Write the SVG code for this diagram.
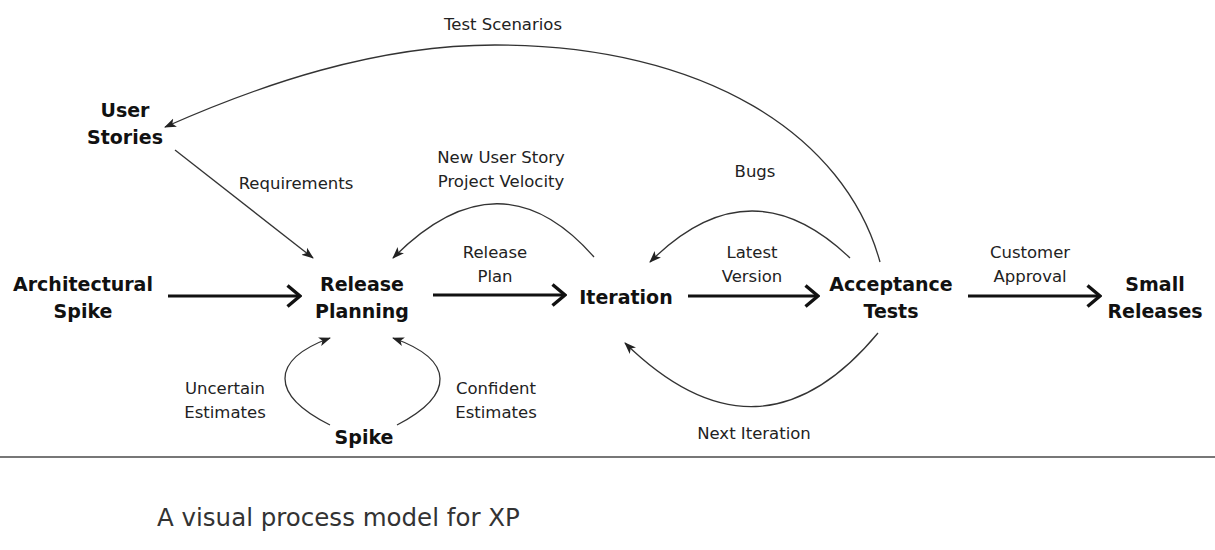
<svg xmlns="http://www.w3.org/2000/svg" width="1215" height="550" viewBox="0 0 1215 550">
  <style>
    .node { font-family: "DejaVu Sans", "Noto Sans", sans-serif; font-weight: bold; font-size: 19px; fill: #111; text-anchor: middle; }
    .lbl { font-family: "DejaVu Sans", "Noto Sans", sans-serif; font-size: 16.5px; fill: #222; text-anchor: middle; }
    .cap { font-family: "DejaVu Sans", "Noto Sans", sans-serif; font-weight: normal; font-size: 24.5px; fill: #333; }
    .main { fill: none; stroke: #111; stroke-width: 3.2; marker-end: url(#big); }
    .thin { fill: none; stroke: #333; stroke-width: 1.3; marker-end: url(#small); }
  </style>
  <defs>
    <marker id="big" viewBox="0 0 16 24" refX="14.5" refY="12" markerWidth="16" markerHeight="24" markerUnits="userSpaceOnUse" orient="auto">
      <path d="M2,1.5 L14.5,12 L2,22.5" fill="none" stroke="#111" stroke-width="3.4"/>
    </marker>
    <marker id="small" viewBox="0 0 12 10" refX="11" refY="5" markerWidth="12" markerHeight="10" markerUnits="userSpaceOnUse" orient="auto">
      <path d="M0,0.5 L12,5 L0,9.5 L3,5 z" fill="#222"/>
    </marker>
  </defs>
  <rect width="1215" height="550" fill="#fff"/>

  <g id="connectors">
    <line class="main" x1="168" y1="296" x2="300" y2="296"/>
    <line class="main" x1="433" y1="295" x2="565" y2="295"/>
    <line class="main" x1="688" y1="296" x2="818" y2="296"/>
    <line class="main" x1="968" y1="296" x2="1100" y2="296"/>
    <path class="thin" d="M880,262 C845,135 705,45 495,45 C375,45 260,85 165,127"/>
    <line class="thin" x1="175" y1="150" x2="313" y2="258"/>
    <path class="thin" d="M594,257 Q500,150 393,258"/>
    <path class="thin" d="M850,258 Q750,162 650,262"/>
    <path class="thin" d="M878,333 Q760,475 625,343"/>
    <path class="thin" d="M330,425 C270,395 270,360 330,338"/>
    <path class="thin" d="M397,425 C455,395 455,360 393,338"/>
  </g>

  <g id="connector-labels">
    <text class="lbl" x="503" y="30">Test Scenarios</text>
    <text class="lbl" x="296" y="189">Requirements</text>
    <text class="lbl" x="501" y="163">New User Story</text>
    <text class="lbl" x="501" y="187">Project Velocity</text>
    <text class="lbl" x="755" y="177">Bugs</text>
    <text class="lbl" x="495" y="258">Release</text>
    <text class="lbl" x="495" y="282">Plan</text>
    <text class="lbl" x="752" y="258">Latest</text>
    <text class="lbl" x="752" y="282">Version</text>
    <text class="lbl" x="1030" y="258">Customer</text>
    <text class="lbl" x="1030" y="282">Approval</text>
    <text class="lbl" x="225" y="394">Uncertain</text>
    <text class="lbl" x="225" y="418">Estimates</text>
    <text class="lbl" x="496" y="394">Confident</text>
    <text class="lbl" x="496" y="418">Estimates</text>
    <text class="lbl" x="754" y="439">Next Iteration</text>
  </g>

  <g id="user-stories">
    <text class="node" x="125" y="117">User</text>
    <text class="node" x="125" y="144">Stories</text>
  </g>
  <g id="architectural-spike">
    <text class="node" x="83" y="291">Architectural</text>
    <text class="node" x="83" y="318">Spike</text>
  </g>
  <g id="release-planning">
    <text class="node" x="362" y="291">Release</text>
    <text class="node" x="362" y="318">Planning</text>
  </g>
  <g id="iteration">
    <text class="node" x="626" y="304">Iteration</text>
  </g>
  <g id="acceptance-tests">
    <text class="node" x="891" y="291">Acceptance</text>
    <text class="node" x="891" y="318">Tests</text>
  </g>
  <g id="small-releases">
    <text class="node" x="1155" y="291">Small</text>
    <text class="node" x="1155" y="318">Releases</text>
  </g>
  <g id="spike">
    <text class="node" x="364" y="444">Spike</text>
  </g>

  <line x1="0" y1="457" x2="1215" y2="457" stroke="#777" stroke-width="2"/>
  <text class="cap" x="157" y="526">A visual process model for XP</text>
</svg>
